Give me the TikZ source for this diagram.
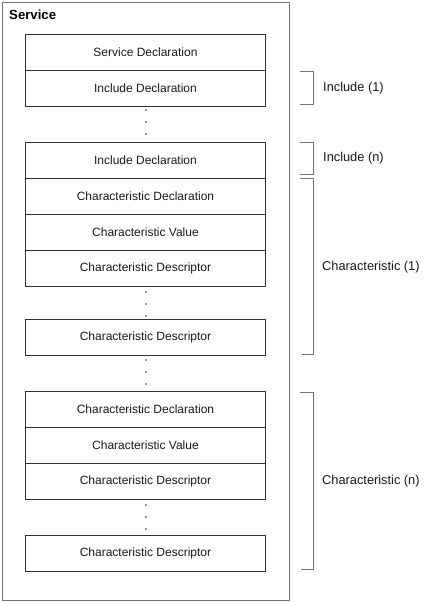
\documentclass[tikz,border=0pt]{standalone}
\usepackage{fontspec}
\setmainfont{Liberation Sans}
\begin{document}
\begin{tikzpicture}[x=1pt,y=-1pt,
  field/.style={draw=black!80,line width=0.9pt,minimum width=240pt,minimum height=36pt,inner sep=0pt,anchor=north west,font=\fontsize{12}{13}\selectfont,text=black!90},
  brk/.style={draw=black!55,line width=1pt},
  lbl/.style={anchor=west,inner sep=0pt,font=\fontsize{12.8}{14}\selectfont,text=black!90},
  dot/.style={circle,fill=black!85,inner sep=0pt,minimum size=1.6pt}]
\useasboundingbox (0,0) rectangle (425,602);
\node[draw=black!55,line width=1pt,minimum width=287pt,minimum height=598pt,anchor=north west,inner sep=0pt] (svc) at (2,2) {};
\node[anchor=west,inner sep=0pt,font=\bfseries\fontsize{13.2}{14}\selectfont] (svclbl) at (9,15) {Service};
\node[field] (sd) at (25,34) {Service Declaration};
\node[field] (id1) at (25,70) {Include Declaration};
\node[dot] (d1) at (146,110) {};
\node[dot] (d2) at (146,122) {};
\node[dot] (d3) at (146,134) {};
\node[field] (idn) at (25,142) {Include Declaration};
\node[field] (cd1) at (25,178) {Characteristic Declaration};
\node[field] (cv1) at (25,214) {Characteristic Value};
\node[field] (cds1) at (25,250) {Characteristic Descriptor};
\node[dot] (d4) at (146,292) {};
\node[dot] (d5) at (146,304) {};
\node[dot] (d6) at (146,316) {};
\node[field] (cds1b) at (25,319) {Characteristic Descriptor};
\node[dot] (d7) at (146,360) {};
\node[dot] (d8) at (146,372) {};
\node[dot] (d9) at (146,384) {};
\node[field] (cdn) at (25,391) {Characteristic Declaration};
\node[field] (cvn) at (25,427) {Characteristic Value};
\node[field] (cdsn) at (25,463) {Characteristic Descriptor};
\node[dot] (d10) at (146,505) {};
\node[dot] (d11) at (146,517) {};
\node[dot] (d12) at (146,529) {};
\node[field] (cdsnb) at (25,535) {Characteristic Descriptor};
% brackets
\draw[brk] (300,71) -- (313,71) -- (313,104) -- (300,104);
\node[lbl] (l1) at (323,88) {Include (1)};
\draw[brk] (300,142) -- (313,142) -- (313,174) -- (300,174);
\node[lbl] (l2) at (323,158) {Include (n)};
\draw[brk] (300,178) -- (313,178) -- (313,354) -- (302,354);
\node[lbl] (l3) at (322,267) {Characteristic (1)};
\draw[brk] (300,392) -- (313,392) -- (313,569) -- (301,569);
\node[lbl] (l4) at (322,481) {Characteristic (n)};
\end{tikzpicture}
\end{document}
